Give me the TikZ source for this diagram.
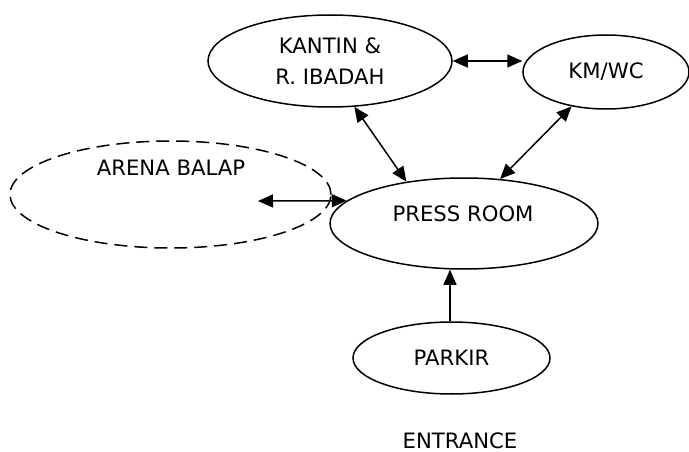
\documentclass[tikz,border=0pt]{standalone}
\usepackage{fontspec}
\setmainfont{DejaVu Sans}
\usetikzlibrary{shapes.geometric,arrows.meta}
\begin{document}
\begin{tikzpicture}[x=1pt,y=-1pt,
  every node/.style={font=\fontsize{21.2}{31}\selectfont},
  area/.style={ellipse,draw,line width=1.5pt,inner sep=0pt},
  zone/.style={ellipse,draw,line width=1.5pt,inner sep=0pt,dash pattern=on 13pt off 7pt},
  txt/.style={inner sep=0pt,align=center},
  tip/.style={Triangle[length=15pt,width=13pt]},
  link/.style={line width=1.5pt,{Triangle[length=15pt,width=13pt]}-{Triangle[length=15pt,width=13pt]}},
  oneway/.style={line width=1.5pt,-{Triangle[length=15pt,width=13pt]}}]
\useasboundingbox (0,0) rectangle (689,452);

% rooms
\node[area,minimum width=244pt,minimum height=92pt,align=center] (kantin) at (330,61) {KANTIN \&\\R. IBADAH};
\node[area,minimum width=166pt,minimum height=74pt] (kmwc) at (606,72) {KM/WC};
\node[zone,minimum width=321pt,minimum height=107pt] (arena) at (170.5,194.5) {};
\node[txt] (arenaLabel) at (171,168) {ARENA BALAP};
\node[area,minimum width=268pt,minimum height=91pt] (press) at (464,223.5) {};
\node[txt] (pressLabel) at (463,214) {PRESS ROOM};
\node[area,minimum width=197pt,minimum height=72pt] (parkir) at (451.5,358) {PARKIR};
\node[txt] (entrance) at (460,440.5) {ENTRANCE};

% connections
\coordinate (arenaIn) at (258,201);
\draw[link] (kantin.east) -- (kantin.east -| kmwc.west);
\draw[link] (kantin.-62) -- (press.144);
\draw[link] (kmwc.-135) -- (press.51);
\draw[link] (arenaIn) -- (press.169);
\draw[oneway] (parkir.north -| 450,0) -- (450,0 |- press.south);
\end{tikzpicture}
\end{document}
